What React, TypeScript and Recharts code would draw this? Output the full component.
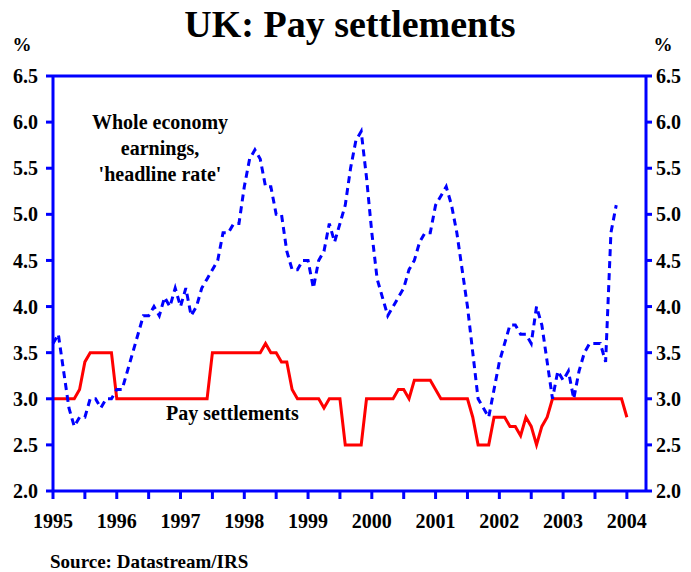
import { Line, LineChart, ReferenceLine, XAxis, YAxis } from "recharts"

// monthly values, index 0 = Jan 1995
const payRate = [
  3.0, 3.0, 3.0, 3.0, 3.0, 3.1, 3.4, 3.5, 3.5, 3.5, 3.5, 3.5,
  3.0, 3.0, 3.0, 3.0, 3.0, 3.0, 3.0, 3.0, 3.0, 3.0, 3.0, 3.0,
  3.0, 3.0, 3.0, 3.0, 3.0, 3.0, 3.5, 3.5, 3.5, 3.5, 3.5, 3.5,
  3.5, 3.5, 3.5, 3.5, 3.6, 3.5, 3.5, 3.4, 3.4, 3.1, 3.0, 3.0,
  3.0, 3.0, 3.0, 2.9, 3.0, 3.0, 3.0, 2.5, 2.5, 2.5, 2.5, 3.0,
  3.0, 3.0, 3.0, 3.0, 3.0, 3.1, 3.1, 3.0, 3.2, 3.2, 3.2, 3.2,
  3.1, 3.0, 3.0, 3.0, 3.0, 3.0, 3.0, 2.8, 2.5, 2.5, 2.5, 2.8,
  2.8, 2.8, 2.7, 2.7, 2.6, 2.8, 2.7, 2.5, 2.7, 2.8, 3.0, 3.0,
  3.0, 3.0, 3.0, 3.0, 3.0, 3.0, 3.0, 3.0, 3.0, 3.0, 3.0, 3.0,
  2.8,
]

const earnings = [
  3.6, 3.7, 3.3, 2.9, 2.7, 2.8, 2.8, 3.0, 3.0, 2.9, 3.0, 3.0,
  3.1, 3.1, 3.3, 3.5, 3.7, 3.9, 3.9, 4.0, 3.9, 4.1, 4.0, 4.2,
  4.0, 4.2, 3.9, 4.0, 4.2, 4.3, 4.4, 4.5, 4.8, 4.8, 4.9, 4.9,
  5.3, 5.6, 5.7, 5.6, 5.3, 5.3, 5.0, 5.0, 4.6, 4.4, 4.4, 4.5,
  4.5, 4.2, 4.5, 4.6, 4.9, 4.7, 4.9, 5.1, 5.5, 5.8, 5.9, 5.4,
  4.8, 4.3, 4.1, 3.9, 4.0, 4.1, 4.2, 4.4, 4.5, 4.7, 4.8, 4.8,
  5.1, 5.2, 5.3, 5.1, 4.8, 4.4, 4.0, 3.5, 3.0, 2.9, 2.8, 3.1,
  3.4, 3.6, 3.8, 3.8, 3.7, 3.7, 3.6, 4.0, 3.8, 3.4, 3.0, 3.3,
  3.2, 3.3, 3.0, 3.3, 3.5, 3.6, 3.6, 3.6, 3.4, 4.8, 5.1,
]

const yearLabels = ["1995", "1996", "1997", "1998", "1999", "2000", "2001", "2002", "2003", "2004"]
const monthTicks = [0, 6, 12, 18, 24, 30, 36, 42, 48, 54, 60, 66, 72, 78, 84, 90, 96, 102, 108]
const valueTicks = [2, 2.5, 3, 3.5, 4, 4.5, 5, 5.5, 6, 6.5]

const data = payRate.map((p, i) => ({ m: i, pay: p, earn: earnings[i] ?? null }))

const BLUE = "#0000ff"
const RED = "#ff0000"
const serif = "'Times New Roman', 'Liberation Serif', serif"
const tickFont = { fill: "#000", fontSize: 20, fontWeight: "bold", fontFamily: serif }
const blueLine = { stroke: BLUE, strokeWidth: 3 }

export default function App() {
  return (
    <div style={{ position: "absolute", left: 0, top: 0, width: 691, height: 572, background: "#fff" }}>
      <LineChart width={691} height={572} data={data} margin={{ top: 76, right: 0, bottom: 0, left: 0 }}>
        <XAxis
          dataKey="m"
          type="number"
          domain={[0, 111.6]}
          ticks={monthTicks}
          tickFormatter={(m: number) => (m % 12 === 0 ? yearLabels[m / 12] : "")}
          height={81}
          tickSize={8}
          tickMargin={15}
          axisLine={blueLine}
          tickLine={blueLine}
          tick={tickFont}
        />
        <YAxis
          yAxisId="left"
          domain={[2, 6.5]}
          ticks={valueTicks}
          tickFormatter={(v: number) => v.toFixed(1)}
          width={53}
          tickSize={7}
          tickMargin={8}
          axisLine={blueLine}
          tickLine={blueLine}
          tick={tickFont}
        />
        <YAxis
          yAxisId="right"
          orientation="right"
          domain={[2, 6.5]}
          ticks={valueTicks}
          tickFormatter={(v: number) => v.toFixed(1)}
          interval={0}
          width={45}
          tickSize={6}
          tickMargin={4}
          axisLine={blueLine}
          tickLine={blueLine}
          tick={tickFont}
        />
        <ReferenceLine yAxisId="left" y={6.5} stroke={BLUE} strokeWidth={3} />
        {/* same scale on both sides, so the pay line can sit on the right axis */}
        <Line
          yAxisId="right"
          dataKey="pay"
          type="linear"
          stroke={RED}
          strokeWidth={3}
          dot={false}
          isAnimationActive={false}
        />
        <Line
          yAxisId="left"
          dataKey="earn"
          type="linear"
          stroke={BLUE}
          strokeWidth={3}
          strokeDasharray="7 5"
          dot={false}
          isAnimationActive={false}
        />
      </LineChart>
      <svg
        width={691}
        height={572}
        style={{ position: "absolute", left: 0, top: 0, pointerEvents: "none" }}
        fontFamily={serif}
        fontWeight="bold"
      >
        <text x={350} y={37} fontSize={38} textAnchor="middle">UK: Pay settlements</text>
        <text x={22} y={51} fontSize={19} textAnchor="middle">%</text>
        <text x={663} y={51} fontSize={19} textAnchor="middle">%</text>
        <text x={160} y={129} fontSize={20} textAnchor="middle">Whole economy</text>
        <text x={160} y={155} fontSize={20} textAnchor="middle">earnings,</text>
        <text x={160} y={181} fontSize={20} textAnchor="middle">'headline rate'</text>
        <text x={166} y={420} fontSize={20}>Pay settlements</text>
        <text x={50} y={568} fontSize={19}>Source: Datastream/IRS</text>
      </svg>
    </div>
  )
}
